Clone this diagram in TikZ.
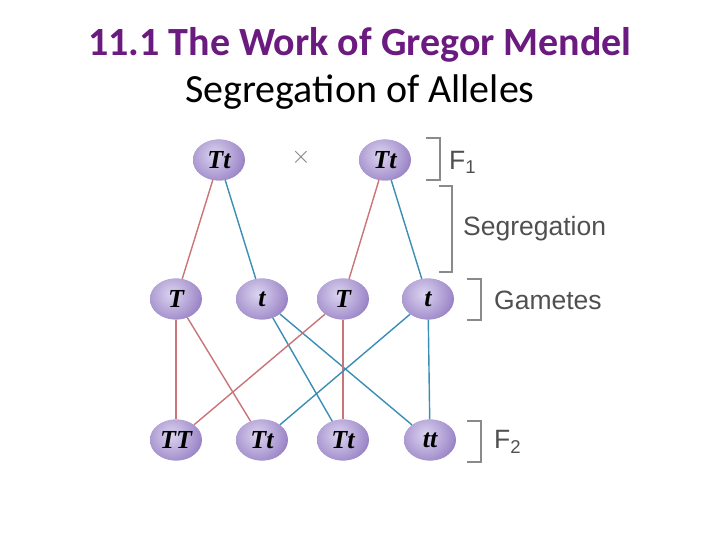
\documentclass[tikz,border=0pt]{standalone}
\usepackage{fontspec}
\setmainfont{Liberation Serif}
\setsansfont{Liberation Sans}
\newfontfamily\titlefont{Carlito}
\usetikzlibrary{shapes.geometric}
\definecolor{ttl}{HTML}{6B1A80}
\definecolor{redl}{HTML}{C87478}
\definecolor{bluel}{HTML}{3A8DB5}
\definecolor{brk}{HTML}{8A8A8A}
\definecolor{lbl}{HTML}{505050}
\definecolor{ballt}{HTML}{DCD4F0}
\definecolor{ballb}{HTML}{9A84C6}
\tikzset{
  allele/.style={ellipse, minimum width=52pt, minimum height=41pt, inner sep=0pt,
    fill=ballb,
    path picture={\shade[inner color=ballt, outer color=ballb]
      ([xshift=-5pt,yshift=5pt]path picture bounding box.center) circle (30pt);},
    font=\fontsize{26}{26}\selectfont\bfseries\itshape},
  rl/.style={draw=redl, line width=1.4pt},
  bl/.style={draw=bluel, line width=1.4pt},
  brkt/.style={draw=brk, line width=1.6pt},
  lab/.style={anchor=west, text=lbl, font=\sffamily\fontsize{26.5}{26.5}\selectfont, inner sep=0pt}
}
\begin{document}
\begin{tikzpicture}[x=1pt,y=-1pt]
\useasboundingbox (0,0) rectangle (720,540);
% title
\node[text=ttl, font=\titlefont\bfseries\fontsize{40}{40}\selectfont] (title) at (360,45) {11.1 The Work of Gregor Mendel};
\node[font=\titlefont\fontsize{40}{40}\selectfont] (sub) at (360,92) {Segregation of Alleles};
% nodes
\node[allele] (p1) at (219,160) {Tt};
\node[allele] (p2) at (385,160) {Tt};
\node[font=\fontsize{34}{34}\selectfont, text=gray] (x) at (301,157) {$\times$};
\node[allele] (g1) at (176,299) {T};
\node[allele] (g2) at (262,299) {t};
\node[allele] (g3) at (343,299) {T};
\node[allele] (g4) at (428,299) {t};
\node[allele] (f1) at (176,440) {TT};
\node[allele] (f2) at (262,440) {Tt};
\node[allele] (f3) at (343,440) {Tt};
\node[allele] (f4) at (430,440) {tt};
% connectors
\draw[rl] (p1) -- (g1);
\draw[bl] (p1) -- (g2);
\draw[rl] (p2) -- (g3);
\draw[bl] (p2) -- (g4);
\draw[rl] (g1) -- (f1);
\draw[rl] (g1) -- (f2);
\draw[bl] (g2) -- (f3);
\draw[bl] (g2) -- (f4);
\draw[rl] (g3) -- (f1);
\draw[rl] (g3) -- (f3);
\draw[bl] (g4) -- (f2);
\draw[bl] (g4) -- (f4);
% brackets
\draw[brkt] (426,138) -- (440,138) -- (440,180) -- (426,180);
\draw[brkt] (439,186) -- (452,186) -- (452,272) -- (439,272);
\draw[brkt] (467,279) -- (481,279) -- (481,320) -- (467,320);
\draw[brkt] (467,421) -- (481,421) -- (481,462) -- (467,462);
% labels
\node[lab] (lf1) at (449,162) {F\textsubscript{1}};
\node[lab] (lseg) at (463,229) {Segregation};
\node[lab] (lgam) at (494,300) {Gametes};
\node[lab] (lf2) at (494,442) {F\textsubscript{2}};
\end{tikzpicture}
\end{document}
